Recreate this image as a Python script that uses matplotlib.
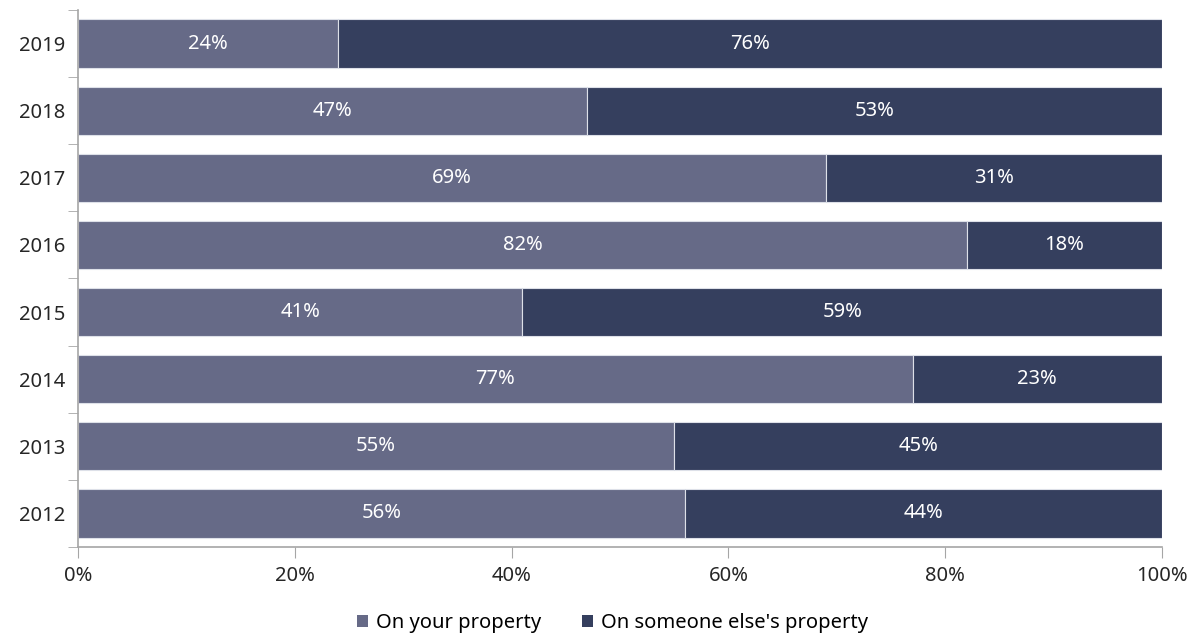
import numpy as np
import matplotlib.pyplot as plt

plt.rcParams['font.family'] = ['Noto Sans', 'DejaVu Sans']

years = ['2012', '2013', '2014', '2015', '2016', '2017', '2018', '2019']
own = [56, 55, 77, 41, 82, 69, 47, 24]
other = [44, 45, 23, 59, 18, 31, 53, 76]

c_own = '#666a87'
c_other = '#353f5e'
grey = '#a6a6a6'
fs = 14.5

fig = plt.figure(figsize=(11.96, 6.37), dpi=100)
ax = fig.add_axes([0.0652, 0.1413, 0.9064, 0.843])

y = np.arange(len(years))
h = 0.72
ax.barh(y, own, height=h, color=c_own, edgecolor='#dde0e8', linewidth=0.8,
        label='On your property')
ax.barh(y, other, left=own, height=h, color=c_other, edgecolor='#dde0e8',
        linewidth=0.8, label="On someone else's property")

for i in range(len(years)):
    ax.text(own[i] / 2, y[i], f'{own[i]}%', color='white', ha='center',
            va='center', fontsize=fs)
    ax.text(own[i] + other[i] / 2, y[i], f'{other[i]}%', color='white',
            ha='center', va='center', fontsize=fs)

ax.set_xlim(0, 100)
ax.set_ylim(-0.5, len(years) - 0.5)
ax.set_xticks(np.arange(0, 101, 20))
ax.set_xticklabels([f'{v}%' for v in range(0, 101, 20)])
ax.set_yticks(y)
ax.set_yticklabels(years)
ax.set_yticks(np.arange(-0.5, len(years)), minor=True)

ax.tick_params(axis='y', which='major', length=0, pad=9, labelsize=fs,
               labelcolor='#262626')
ax.tick_params(axis='y', which='minor', length=7, color=grey, direction='out')
ax.tick_params(axis='x', length=8, color=grey, pad=6, labelsize=fs,
               labelcolor='#262626')

for s in ['top', 'right']:
    ax.spines[s].set_visible(False)
for s in ['left', 'bottom']:
    ax.spines[s].set_color(grey)
    ax.spines[s].set_linewidth(1.2)

leg = ax.legend(loc='center', bbox_to_anchor=(0.493, -0.142), ncol=2,
                frameon=False, fontsize=fs, handlelength=0.55, handleheight=0.55,
                handletextpad=0.4, columnspacing=2.0)
for p in leg.get_patches():
    p.set_edgecolor('none')

fig.savefig('out.png', dpi=100)
